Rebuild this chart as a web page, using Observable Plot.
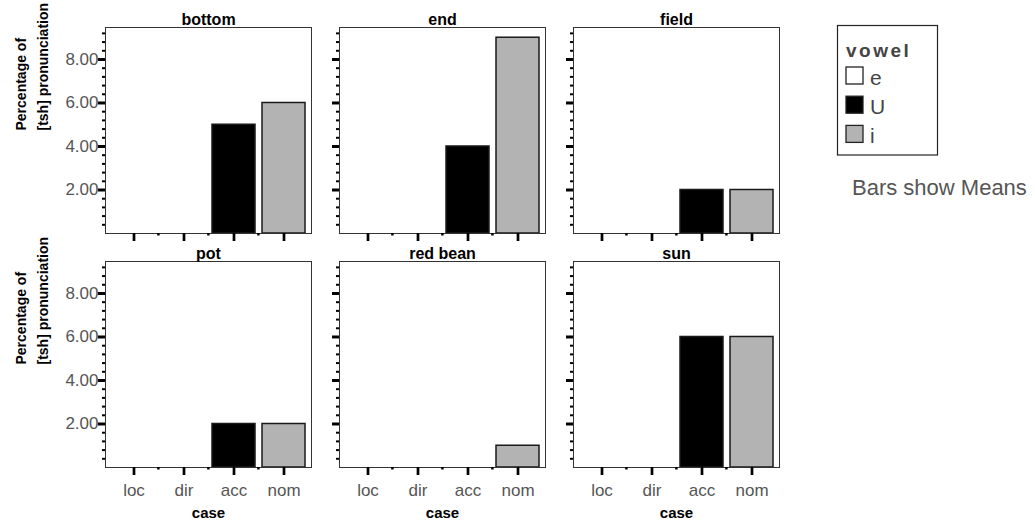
<!DOCTYPE html>
<html>
<head>
<meta charset="utf-8">
<script src="https://cdn.jsdelivr.net/npm/d3@7"></script>
<script src="https://cdn.jsdelivr.net/npm/@observablehq/plot@0.6"></script>
<style>
  html, body { margin: 0; padding: 0; background: #fff; }
  #wrap { position: relative; width: 1035px; height: 522px; font-family: "Liberation Sans", Arial, sans-serif; }
  #wrap svg { position: absolute; left: 0; top: 0; }
</style>
</head>
<body>
<div id="wrap"></div>
<script>
// ---- data ----
const panels = ["bottom", "end", "field", "pot", "red bean", "sun"];
const cases = ["loc", "dir", "acc", "nom"];
const caseVowels = ["e", "e", "U", "i"];
const vowels = ["e", "U", "i"];
const vowelColors = ["#ffffff", "#000000", "#b3b3b3"];
const locValues = [0, 0, 0, 0, 0, 0];
const dirValues = [0, 0, 0, 0, 0, 0];
const accValues = [5, 4, 2, 2, 0, 6];
const nomValues = [6, 9, 2, 2, 1, 6];
const yMajorTicks = [2, 4, 6, 8];
const yMinorTicks = [0.4, 0.8, 1.2, 1.6, 2.4, 2.8, 3.2, 3.6, 4.4, 4.8, 5.2, 5.6, 6.4, 6.8, 7.2, 7.6, 8.4, 8.8, 9.2];
const xMinorTicks = ["dir", "acc", "nom"];
const yTitle = "Percentage of\n[tsh] pronunciation";
const xTitle = "case";
const legendTitle = "vowel";
const note = "Bars show Means";

const nCols = 3;
const colOf = (p) => panels.indexOf(p) % nCols;
const rowOf = (p) => Math.floor(panels.indexOf(p) / nCols);

const valueSeries = [locValues, dirValues, accValues, nomValues];
const rows = panels.flatMap((p, i) =>
  cases.map((c, j) => ({panel: p, case: c, vowel: caseVowels[j], value: valueSeries[j][i]}))
).filter(d => d.value > 0);
const panelRows = panels.map(p => ({panel: p}));
const leftPanels = panelRows.filter(d => colOf(d.panel) === 0);
const bottomPanels = panelRows.filter(d => rowOf(d.panel) === 1);

const FONT = "Liberation Sans, Arial, sans-serif";
const fx = d => colOf(d.panel);
const fy = d => rowOf(d.panel);

const chart = Plot.plot({
  width: 1035,
  height: 522,
  marginLeft: 104,
  marginRight: 254,
  marginTop: 26,
  marginBottom: 55,
  style: {fontFamily: FONT, background: "transparent"},
  fx: {domain: [0, 1, 2], paddingInner: 0.119, paddingOuter: 0, axis: null},
  fy: {domain: [0, 1], paddingInner: 0.121, paddingOuter: 0, axis: null},
  x: {domain: cases, paddingInner: 0.14, paddingOuter: 0.09, label: null},
  y: {domain: [0, 9.47], label: null},
  color: {domain: vowels, range: vowelColors},
  marks: [
    Plot.barY(rows, {x: "case", y: "value", fill: "vowel", stroke: "#1a1a1a", strokeWidth: 1.5, fx, fy}),
    Plot.frame({stroke: "#333", strokeWidth: 1}),
    // y ticks (all panels) and labels (left column)
    Plot.axisY(yMinorTicks, {tickSize: 3, strokeWidth: 2, tickFormat: () => "", facetAnchor: null, label: null}),
    Plot.axisY(yMajorTicks, {tickSize: 7, strokeWidth: 3, tickFormat: () => "", facetAnchor: null, label: null}),
    Plot.axisY(yMajorTicks, {tickSize: 0, tickPadding: 7, tickFormat: d3.format(".2f"), fontSize: 17, color: "#555", facetAnchor: "left", label: null}),
    // x ticks (all panels) and labels (bottom row)
    Plot.axisX({tickSize: 8, strokeWidth: 2.7, tickFormat: () => "", facetAnchor: null, label: null}),
    Plot.axisX(xMinorTicks, {tickSize: 2.5, strokeWidth: 2.5, dx: -25.6, tickFormat: () => "", facetAnchor: null, label: null}),
    Plot.axisX({tickSize: 0, tickPadding: 16, fontSize: 17, color: "#555", facetAnchor: "bottom", label: null}),
    // panel titles
    Plot.text(panelRows, {fx, fy, text: "panel", frameAnchor: "top", lineAnchor: "bottom", dy: -3, fontSize: 16, fontWeight: "bold", fill: "#000", ariaLabel: "panel-title"}),
    // y axis titles
    Plot.text(leftPanels, {fx, fy, text: () => yTitle, frameAnchor: "left", rotate: -90, dx: -75.8, fontSize: 14, fontWeight: "bold", lineHeight: 1.57, fill: "#000"}),
    // x axis titles
    Plot.text(bottomPanels, {fx, fy, text: () => xTitle, frameAnchor: "bottom", lineAnchor: "middle", dy: 45.2, fontSize: 15, fontWeight: "bold", fill: "#000"})
  ]
});

d3.select(chart).selectAll("g[aria-label='panel-title'] text").style("letter-spacing", "2.2px");

const wrap = document.getElementById("wrap");
wrap.appendChild(chart);

// legend + note overlay
const ov = d3.select(wrap).append("svg")
  .attr("width", 1035).attr("height", 522)
  .style("pointer-events", "none")
  .style("font-family", FONT);
const lx = 837.5, ly = 25.5;
ov.append("rect").attr("x", lx).attr("y", ly).attr("width", 100).attr("height", 129.5)
  .attr("fill", "#fff").attr("stroke", "#222").attr("stroke-width", 1.2);
ov.append("text").attr("x", lx + 8.5).attr("y", 57.3).text(legendTitle)
  .attr("font-size", 19).attr("font-weight", "bold").attr("fill", "#444").style("letter-spacing", "2.5px");
vowels.forEach((v, i) => {
  const sy = 67 + i * 29.2;
  ov.append("rect").attr("x", lx + 8.5).attr("y", sy).attr("width", 17).attr("height", 17)
    .attr("fill", vowelColors[i]).attr("stroke", "#222").attr("stroke-width", 1.3);
  ov.append("text").attr("x", lx + 32.5).attr("y", sy + 17.5).text(v)
    .attr("font-size", 21).attr("fill", "#444");
});
ov.append("text").attr("x", 852).attr("y", 195).text(note).attr("font-size", 22).attr("fill", "#555");
</script>
</body>
</html>
